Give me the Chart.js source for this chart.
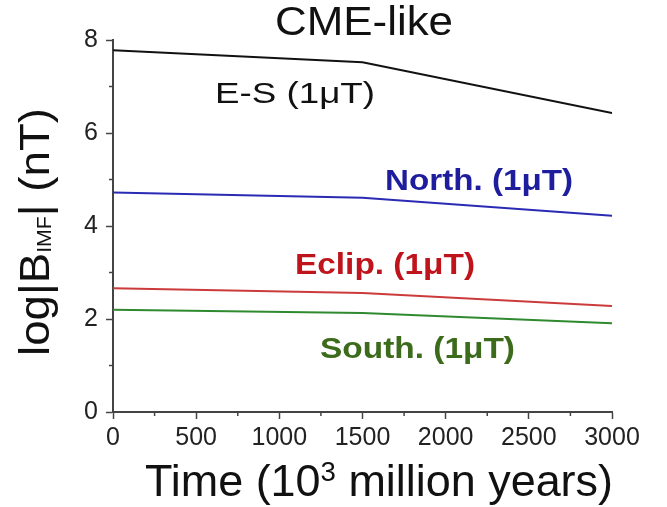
<!DOCTYPE html>
<html><head><meta charset="utf-8">
<script src="https://cdn.jsdelivr.net/npm/chart.js@4.4.0/dist/chart.umd.min.js"></script>
<style>html,body{margin:0;padding:0;background:#fff;overflow:hidden}#wrap{width:667px;height:507px}</style>
</head><body><div id="wrap"><canvas id="c" width="667" height="507"></canvas></div>
<script>
// ---- data ----
const timeMyr = [0, 1500, 3000];
const esValues = [7.78, 7.52, 6.43];
const northValues = [4.72, 4.61, 4.22];
const eclipValues = [2.66, 2.56, 2.28];
const southValues = [2.20, 2.13, 1.91];
const xMinorTicks = [250, 750, 1250, 1750, 2250, 2750];
const yMinorTicks = [1, 3, 5, 7];
const seriesNames = ['E-S (1μT)', 'North. (1μT)', 'Eclip. (1μT)', 'South. (1μT)'];
const chartTitle = 'CME-like';

const FONT = '"Liberation Sans", Arial, sans-serif';
const pts = vals => timeMyr.map((t, i) => ({x: t, y: vals[i]}));

function drawRuns(ctx, runs, x, y, o) {
  let W = 0;
  const ws = runs.map(r => { ctx.font = r.font; const w = ctx.measureText(r.t).width; W += w; return w; });
  const sx = o.width ? o.width / W : 1;
  ctx.save();
  ctx.translate(x, y);
  if (o.rotate) ctx.rotate(o.rotate);
  ctx.scale(sx, 1);
  ctx.fillStyle = o.color || '#111';
  ctx.textBaseline = 'alphabetic';
  ctx.textAlign = 'left';
  let cx = o.align === 'center' ? -W / 2 : 0;
  runs.forEach((r, i) => { ctx.font = r.font; ctx.fillText(r.t, cx, r.dy || 0); cx += ws[i]; });
  ctx.restore();
}

const decor = {
  id: 'decor',
  afterDraw(chart) {
    const ctx = chart.ctx, xs = chart.scales.x, ys = chart.scales.y, a = chart.chartArea;
    ctx.save();
    ctx.strokeStyle = '#444'; ctx.lineWidth = 1.5;
    xMinorTicks.forEach(v => { const p = xs.getPixelForValue(v); ctx.beginPath(); ctx.moveTo(p, a.bottom); ctx.lineTo(p, a.bottom + 4); ctx.stroke(); });
    yMinorTicks.forEach(v => { const p = ys.getPixelForValue(v); ctx.beginPath(); ctx.moveTo(a.left, p); ctx.lineTo(a.left - 4, p); ctx.stroke(); });
    ctx.restore();
    // title
    drawRuns(ctx, [{t: chartTitle, font: '40px ' + FONT}], 275, 35, {width: 178});
    // x title
    drawRuns(ctx, [
      {t: 'Time (10', font: '44px ' + FONT},
      {t: '3', font: '27px ' + FONT, dy: -15},
      {t: ' million years)', font: '44px ' + FONT}
    ], 145, 496, {width: 468});
    // y title
    drawRuns(ctx, [
      {t: 'log|B', font: '43px ' + FONT},
      {t: 'IMF', font: '20px ' + FONT, dy: 2},
      {t: '| (nT)', font: '43px ' + FONT}
    ], 49, 232, {width: 248, rotate: -Math.PI / 2, align: 'center'});
    // series labels
    drawRuns(ctx, [{t: seriesNames[0], font: '30px ' + FONT}], 215, 103, {width: 160, color: '#111'});
    drawRuns(ctx, [{t: seriesNames[1], font: 'bold 30px ' + FONT}], 385, 190, {width: 188, color: '#1d1d9e'});
    drawRuns(ctx, [{t: seriesNames[2], font: 'bold 30px ' + FONT}], 295, 274, {width: 180, color: '#c0141c'});
    drawRuns(ctx, [{t: seriesNames[3], font: 'bold 30px ' + FONT}], 320, 358, {width: 195, color: '#3d6b1c'});
  }
};

function fixPad(s) { s.paddingLeft = 0; s.paddingRight = 0; s.paddingTop = 0; s.paddingBottom = 0; }

new Chart(document.getElementById('c'), {
  type: 'line',
  data: {
    datasets: [
      {label: seriesNames[0], data: pts(esValues), borderColor: '#111111'},
      {label: seriesNames[1], data: pts(northValues), borderColor: '#2a2ab5'},
      {label: seriesNames[2], data: pts(eclipValues), borderColor: '#cc3b3b'},
      {label: seriesNames[3], data: pts(southValues), borderColor: '#2f8a2f'}
    ]
  },
  options: {
    responsive: false,
    animation: false,
    devicePixelRatio: 1,
    layout: {padding: {top: 40, right: 55, bottom: 0, left: 0}},
    elements: {point: {radius: 0}, line: {borderWidth: 2, tension: 0}},
    plugins: {legend: {display: false}, title: {display: false}, tooltip: {enabled: false}},
    scales: {
      x: {
        type: 'linear', min: 0, max: 3000,
        ticks: {stepSize: 500, color: '#222', font: {family: FONT, size: 25}, padding: 4, maxRotation: 0, autoSkip: false, callback: v => String(v)},
        grid: {drawOnChartArea: false, tickLength: 7, tickColor: '#444', tickWidth: 1.5},
        border: {color: '#444', width: 2},
        afterFit: s => { s.height = 95; fixPad(s); }
      },
      y: {
        min: 0, max: 8,
        ticks: {stepSize: 2, color: '#222', font: {family: FONT, size: 25}, padding: 8, callback: v => String(v)},
        grid: {drawOnChartArea: false, tickLength: 7, tickColor: '#444', tickWidth: 1.5},
        border: {color: '#444', width: 2},
        afterFit: s => { s.width = 113; fixPad(s); }
      }
    }
  },
  plugins: [decor]
});
</script>
</body></html>
